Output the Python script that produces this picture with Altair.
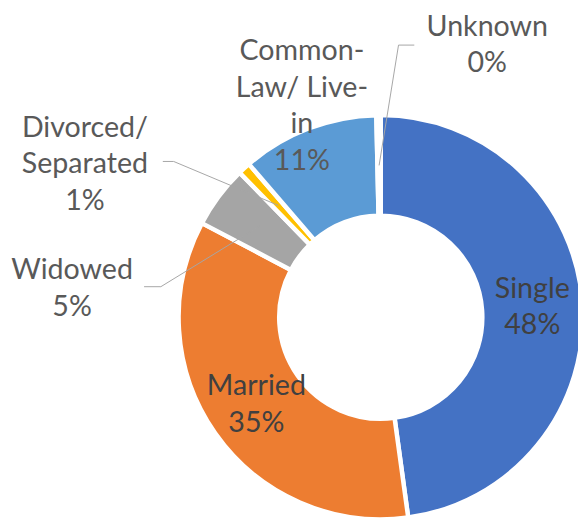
import math
import altair as alt
import pandas as pd

# ---- data ----
categories = ["Single", "Married", "Widowed", "Divorced/ Separated", "Common-Law/ Live-in", "Unknown"]
label_lines = ["Single", "Married", "Widowed", "Divorced/\nSeparated", "Common-\nLaw/ Live-\nin", "Unknown"]
values = [48, 35, 5, 1, 11, 0.35]
colors = ["#4472C4", "#ED7D31", "#A5A5A5", "#FFC000", "#5B9BD5", "#70AD47"]
inside_label = [True, True, False, False, False, False]

# ---- layout (pixels, chart coordinates) ----
W, H = 578, 515
SHIFT_X = 3
CX, CY = 375 + SHIFT_X, 310
R_OUT, R_IN = 205, 103
R_LABEL = 154
FONT = "Lato"
FSIZE = 29
LINE_H = 37
TEXT_COLOR = "#404040"
LEADER_COLOR = "#A6A6A6"

# outside label placement: label block centre and leader-line anchor points
OUTSIDE = {
    "Common-Law/ Live-in": {"pos": (295, 96), "anchor": None},
    "Unknown": {"pos": (483, 34), "anchor": [(409, 34), (393, 34)]},
    "Divorced/ Separated": {"pos": (75, 155), "anchor": [(154, 152), (165, 152)]},
    "Widowed": {"pos": (62, 281), "anchor": [(135, 279), (152, 279)]},
}

total = sum(values)
pcts = [round(v / total * 100) for v in values]
texts = [f"{l}\n{p}%" for l, p in zip(label_lines, pcts)]

df = pd.DataFrame({
    "category": categories,
    "value": values,
    "idx": list(range(len(categories))),
    "text_in": [t if ins else "" for t, ins in zip(texts, inside_label)],
})

# mid angles of slices (clockwise from top) for leader-line ends
mids = {}
cum = 0.0
for c, v in zip(categories, values):
    mids[c] = (cum + v / 2) / total * 2 * math.pi
    cum += v

out_rows = []
line_rows = []
for c, t in zip(categories, texts):
    if c not in OUTSIDE:
        continue
    spec = OUTSIDE[c]
    n = t.count("\n") + 1
    out_rows.append({"px": spec["pos"][0] + SHIFT_X,
                     "py": spec["pos"][1] - (n - 1) / 2 * LINE_H,
                     "text": t})
    if spec["anchor"]:
        pts = [(x + SHIFT_X, y) for x, y in spec["anchor"]]
        a = mids[c]
        pts.append((CX + R_LABEL * math.sin(a), CY - R_LABEL * math.cos(a)))
        for i, (x, y) in enumerate(pts):
            line_rows.append({"seg": c, "ord": i, "px": x, "py": y})

df_out = pd.DataFrame(out_rows)
df_lines = pd.DataFrame(line_rows)

color_scale = alt.Scale(domain=categories, range=colors)

arcs = alt.Chart(df).mark_arc(
    outerRadius=R_OUT, innerRadius=R_IN, stroke="white", strokeWidth=4.5
).encode(
    theta=alt.Theta("value:Q", stack=True),
    color=alt.Color("category:N", scale=color_scale, legend=None),
    order=alt.Order("idx:Q", sort="ascending"),
    x=alt.value(CX),
    y=alt.value(CY),
)

text_in = alt.Chart(df).mark_text(
    radius=R_LABEL, lineBreak="\n", font=FONT, fontSize=FSIZE, lineHeight=LINE_H,
    color=TEXT_COLOR, align="center", baseline="middle", dy=-LINE_H / 2
).encode(
    theta=alt.Theta("value:Q", stack=True),
    order=alt.Order("idx:Q", sort="ascending"),
    text="text_in:N",
    x=alt.value(CX),
    y=alt.value(CY),
)

leaders = alt.Chart(df_lines).mark_line(color=LEADER_COLOR, strokeWidth=1).encode(
    x=alt.X("px:Q", scale=None),
    y=alt.Y("py:Q", scale=None),
    detail="seg:N",
    order="ord:Q",
)

text_out = alt.Chart(df_out).mark_text(
    lineBreak="\n", font=FONT, fontSize=FSIZE, lineHeight=LINE_H,
    color="#595959", align="center", baseline="middle"
).encode(
    x=alt.X("px:Q", scale=None),
    y=alt.Y("py:Q", scale=None),
    text="text:N",
)

chart = alt.layer(arcs, leaders, text_in, text_out).properties(
    width=W, height=H, autosize="none", padding=0
).configure_view(stroke=None)

chart.save("out.html", embed_options={"renderer": "svg", "actions": False})
